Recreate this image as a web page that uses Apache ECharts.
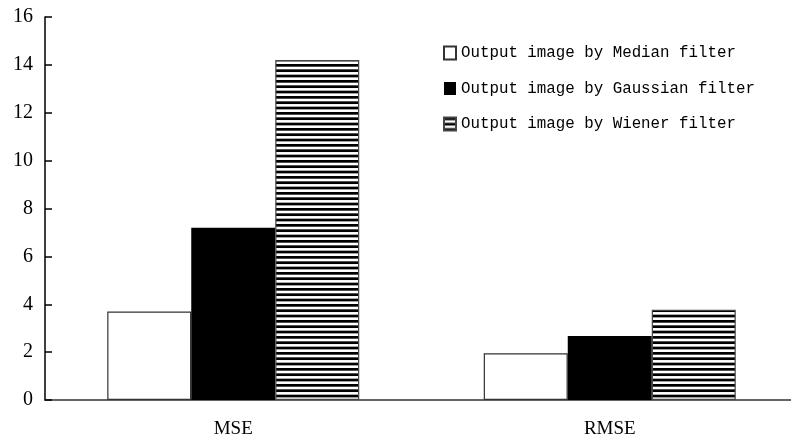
<!DOCTYPE html>
<html><head><meta charset="utf-8">
<script src="https://cdn.jsdelivr.net/npm/echarts@6/dist/echarts.min.js"></script>
<style>html,body{margin:0;padding:0;background:#fff;overflow:hidden}#c{width:798px;height:439px}</style>
</head><body><div id="c"></div>
<script>
const categories = ['MSE', 'RMSE'];
const medianValues = [3.7, 1.95];
const gaussianValues = [7.2, 2.67];
const wienerValues = [14.2, 3.77];
const seriesNames = ['Output image by Median filter', 'Output image by Gaussian filter', 'Output image by Wiener filter'];
const yTicks = {min: 0, max: 16, interval: 2};

function stripes() {
  const c = document.createElement('canvas');
  c.width = 8; c.height = 16;
  const g = c.getContext('2d');
  g.fillStyle = '#fff'; g.fillRect(0, 0, 8, 16);
  g.fillStyle = '#000';
  for (let i = 0; i < 3; i++) g.fillRect(0, i * 16 / 3, 8, 2.7);
  return c;
}
const hatch = {image: stripes(), repeat: 'repeat'};

const chart = echarts.init(document.getElementById('c'), null, {renderer: 'canvas'});
chart.setOption({
  animation: false,
  backgroundColor: '#fff',
  grid: {left: 45, top: 17, right: 0, bottom: 38, containLabel: false},
  legend: {
    orient: 'vertical', left: 443, top: 45, padding: 0,
    itemWidth: 12, itemHeight: 13, itemGap: 19.5,
    icon: 'rect',
    textStyle: {fontFamily: 'Liberation Mono', fontSize: 15.8, color: '#000', lineHeight: 16},
    data: seriesNames
  },
  xAxis: {
    type: 'category', data: categories,
    axisLine: {lineStyle: {color: '#333', width: 1.5}},
    axisTick: {inside: true, length: 7, lineStyle: {color: '#333', width: 1.5}},
    axisLabel: {fontFamily: 'Liberation Serif', fontSize: 19, color: '#000', margin: 20}
  },
  yAxis: {
    type: 'value', min: yTicks.min, max: yTicks.max, interval: yTicks.interval,
    splitLine: {show: false},
    axisLine: {show: true, lineStyle: {color: '#000', width: 1.5}},
    axisTick: {show: true, inside: true, length: 7, lineStyle: {color: '#000', width: 1.5}},
    axisLabel: {fontFamily: 'Liberation Serif', fontSize: 20, color: '#000', margin: 12}
  },
  series: [
    {name: seriesNames[0], type: 'bar', data: medianValues, barWidth: 84, barGap: '0%',
     itemStyle: {color: '#fff', borderColor: '#333', borderWidth: 1.2}},
    {name: seriesNames[1], type: 'bar', data: gaussianValues, barWidth: 84, barGap: '0%',
     itemStyle: {color: '#000', borderColor: '#000', borderWidth: 0}},
    {name: seriesNames[2], type: 'bar', data: wienerValues, barWidth: 84, barGap: '0%',
     itemStyle: {color: hatch, borderColor: '#444', borderWidth: 1.2}}
  ]
});
</script></body></html>
